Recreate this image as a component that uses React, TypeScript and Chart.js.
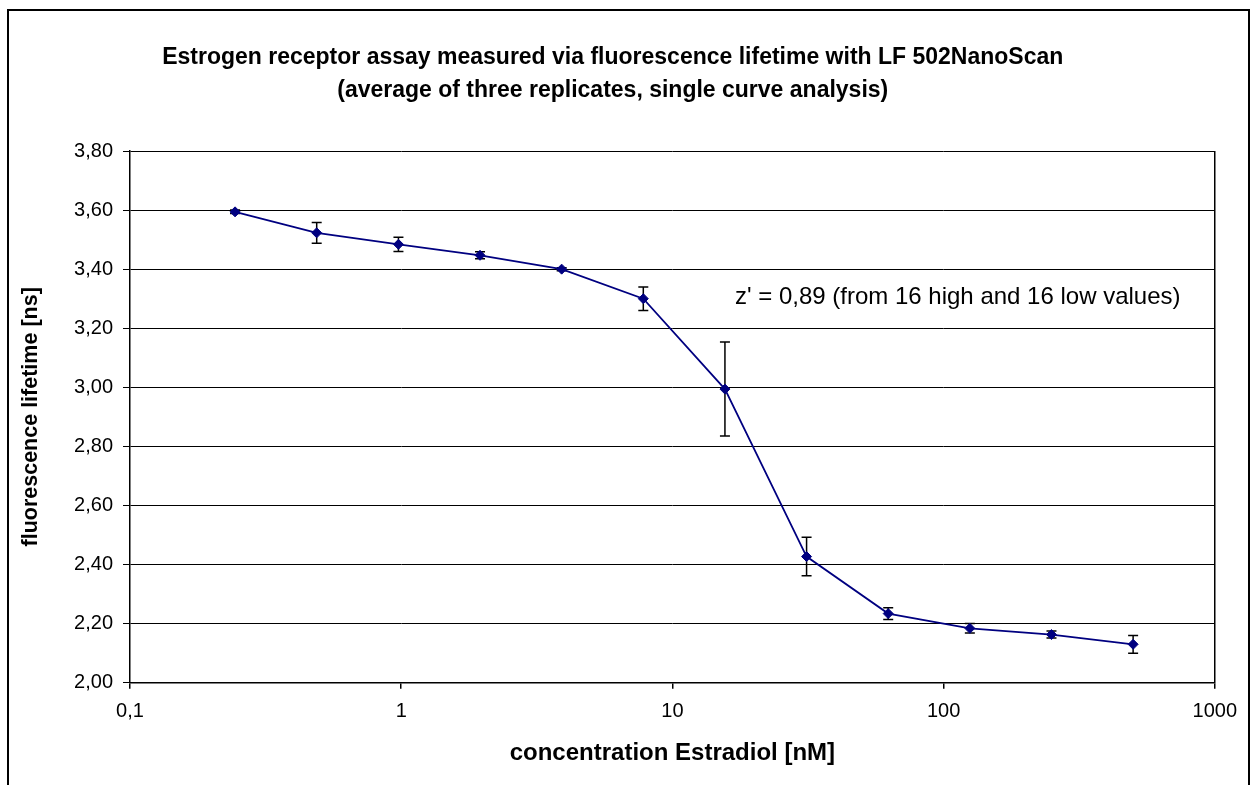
import React, { useEffect, useRef } from 'react';
import { Chart, registerables } from 'chart.js';

Chart.register(...registerables);

// ---- data ----
const concentrations = [0.244, 0.488, 0.977, 1.953, 3.906, 7.8125, 15.625, 31.25, 62.5, 125, 250, 500];
const lifetimes = [3.594, 3.523, 3.484, 3.447, 3.4, 3.3, 2.994, 2.427, 2.234, 2.184, 2.163, 2.13];
const errors = [0.006, 0.035, 0.024, 0.012, 0.005, 0.04, 0.159, 0.065, 0.02, 0.016, 0.012, 0.03];

const xTickValues = [0.1, 1, 10, 100, 1000];
const xTickLabels = ['0,1', '1', '10', '100', '1000'];
const yMin = 2.0;
const yMax = 3.8;
const yStep = 0.2;

const titleLines = [
  'Estrogen receptor assay measured via fluorescence lifetime with LF 502NanoScan',
  '(average of three replicates, single curve analysis)',
];
const xAxisTitle = 'concentration Estradiol [nM]';
const yAxisTitle = 'fluorescence lifetime [ns]';
const annotationText = "z' = 0,89 (from 16 high and 16 low values)";

const FONT = "'Liberation Sans', Arial, Helvetica, sans-serif";
const NAVY = '#000080';

const CANVAS_W = 1239;
const CANVAS_H = 800;

const errorBarPlugin = {
  id: 'errorBars',
  beforeDatasetsDraw(chart: any) {
    const { ctx, scales } = chart;
    const x = scales.x;
    const y = scales.y;
    ctx.save();
    ctx.strokeStyle = '#000';
    ctx.lineWidth = 1.5;
    concentrations.forEach((c, i) => {
      const px = x.getPixelForValue(c);
      const top = y.getPixelForValue(lifetimes[i] + errors[i]);
      const bot = y.getPixelForValue(lifetimes[i] - errors[i]);
      ctx.beginPath();
      ctx.moveTo(px, top);
      ctx.lineTo(px, bot);
      ctx.moveTo(px - 5, top);
      ctx.lineTo(px + 5, top);
      ctx.moveTo(px - 5, bot);
      ctx.lineTo(px + 5, bot);
      ctx.stroke();
    });
    ctx.restore();
  },
};

const annotationPlugin = {
  id: 'zAnnotation',
  afterDraw(chart: any) {
    const { ctx } = chart;
    ctx.save();
    ctx.font = `24px ${FONT}`;
    ctx.fillStyle = '#000';
    ctx.textAlign = 'left';
    ctx.textBaseline = 'middle';
    ctx.fillText(annotationText, 726, 286);
    ctx.restore();
  },
};

export default function App() {
  const canvasRef = useRef<HTMLCanvasElement | null>(null);

  useEffect(() => {
    if (!canvasRef.current) return;
    const chart = new Chart(canvasRef.current, {
      type: 'scatter',
      data: {
        datasets: [
          {
            data: concentrations.map((c, i) => ({ x: c, y: lifetimes[i] })),
            showLine: true,
            borderColor: NAVY,
            backgroundColor: NAVY,
            borderWidth: 1.75,
            pointStyle: 'rectRot',
            pointRadius: 5,
            pointBorderWidth: 1,
            pointBorderColor: NAVY,
            pointBackgroundColor: NAVY,
            tension: 0,
          },
        ],
      },
      options: {
        responsive: false,
        animation: false,
        layout: { padding: { left: 0, right: 31.5, top: 0, bottom: 28.3 } },
        plugins: {
          legend: { display: false },
          tooltip: { enabled: false },
          title: {
            display: true,
            text: titleLines,
            color: '#000',
            font: { family: FONT, size: 23, weight: 'bold', lineHeight: 33 / 23 },
            padding: { top: 30, bottom: 44 },
          },
        },
        scales: {
          x: {
            type: 'logarithmic',
            min: 0.1,
            max: 1000,
            afterBuildTicks: (scale: any) => {
              scale.ticks = xTickValues.map((v) => ({ value: v }));
            },
            afterFit: (scale: any) => {
              scale.height = 100;
            },
            ticks: {
              color: '#000',
              font: { family: FONT, size: 20 },
              padding: 11,
              maxRotation: 0,
              autoSkip: false,
              callback: (value: any) => {
                const idx = xTickValues.findIndex((v) => Math.abs(v - value) < 1e-9);
                return idx >= 0 ? xTickLabels[idx] : '';
              },
            },
            grid: {
              drawOnChartArea: true,
              color: (ctx: any) => (ctx.tick && Math.abs(ctx.tick.value - 1000) < 1e-9 ? '#000' : 'rgba(0,0,0,0)'),
              tickColor: '#000',
              tickLength: 6,
              lineWidth: 1.5,
            },
            border: { color: '#000', width: 1.5 },
            title: {
              display: true,
              text: xAxisTitle,
              color: '#000',
              font: { family: FONT, size: 24, weight: 'bold' },
              padding: { top: 0, bottom: 14.5 },
            },
          },
          y: {
            type: 'linear',
            min: yMin,
            max: yMax,
            afterFit: (scale: any) => {
              scale.width = 121;
            },
            ticks: {
              stepSize: yStep,
              color: '#000',
              font: { family: FONT, size: 20 },
              padding: 10,
              callback: (value: any) => Number(value).toFixed(2).replace('.', ','),
            },
            grid: {
              color: '#000',
              lineWidth: 1,
              tickColor: '#000',
              tickLength: 7,
            },
            border: { color: '#000', width: 1.5 },
            title: {
              display: true,
              text: yAxisTitle,
              color: '#000',
              font: { family: FONT, size: 21.5, weight: 'bold' },
              padding: { top: 9.5, bottom: 0 },
            },
          },
        },
      },
      plugins: [errorBarPlugin, annotationPlugin],
    } as any);
    return () => chart.destroy();
  }, []);

  return (
    <div
      style={{
        position: 'fixed',
        left: 7,
        top: 9,
        width: CANVAS_W,
        height: CANVAS_H,
        border: '2px solid #000',
        background: '#fff',
        overflow: 'hidden',
      }}
    >
      <canvas ref={canvasRef} width={CANVAS_W} height={CANVAS_H} style={{ display: 'block' }} />
    </div>
  );
}
